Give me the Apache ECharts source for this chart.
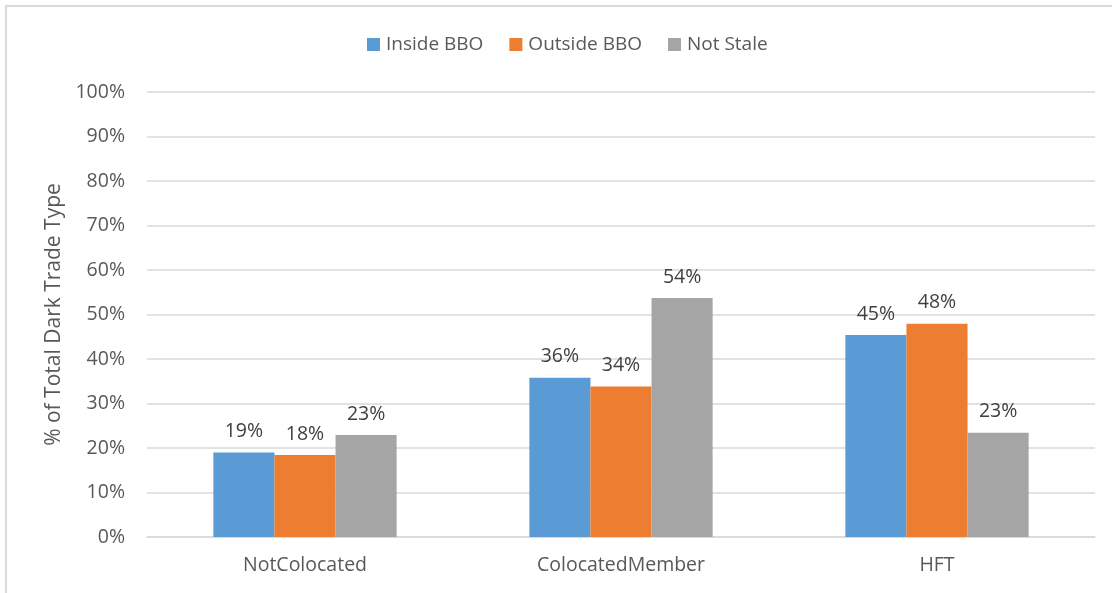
<!DOCTYPE html>
<html>
<head>
<meta charset="utf-8">
<style>
  html, body { margin: 0; padding: 0; background: #ffffff; }
  #chart { width: 1112px; height: 593px; }
</style>
<script src="https://cdn.jsdelivr.net/npm/echarts@6/dist/echarts.min.js"></script>
</head>
<body>
<div id="chart"></div>
<script>
// Share of each dark trade type by trader group (percent)
const categories = ['NotColocated', 'ColocatedMember', 'HFT'];
const insideBBO = [19.0, 35.8, 45.4];
const outsideBBO = [18.4, 33.8, 47.9];
const notStale = [22.9, 53.7, 23.4];
const seriesNames = ['Inside BBO', 'Outside BBO', 'Not Stale'];
const seriesColors = ['#5B9BD5', '#ED7D31', '#A5A5A5'];

const FONT = '"Open Sans", "Liberation Sans", sans-serif';
const FS = 19.5;

const chart = echarts.init(document.getElementById('chart'), null, { renderer: 'canvas' });

function barSeries(name, data, color) {
  return {
    name: name,
    type: 'bar',
    data: data,
    barGap: '0%',
    barCategoryGap: '42%',
    itemStyle: { color: color },
    label: {
      show: true,
      position: 'top',
      distance: 11,
      color: '#404040',
      fontFamily: FONT,
      fontSize: FS,
      formatter: p => Math.round(p.value) + '%'
    },
    emphasis: { disabled: true }
  };
}

chart.setOption({
  animation: false,
  backgroundColor: '#ffffff',
  textStyle: { fontFamily: FONT },
  color: seriesColors,
  legend: {
    top: 30,
    left: 362,
    itemWidth: 13,
    itemHeight: 13,
    itemGap: 26,
    icon: 'rect',
    textStyle: { color: '#595959', fontSize: 19, fontFamily: FONT, padding: [0, 0, 0, 1] },
    data: seriesNames
  },
  grid: { left: 147, right: 17, top: 92, bottom: 56, containLabel: false },
  xAxis: {
    type: 'category',
    data: categories,
    axisLine: { show: true, lineStyle: { color: '#D9D9D9', width: 1.5 } },
    axisTick: { show: false },
    axisLabel: { color: '#595959', fontSize: FS, fontFamily: FONT, margin: 18 }
  },
  yAxis: {
    type: 'value',
    min: 0,
    max: 100,
    interval: 10,
    name: '% of Total Dark Trade Type',
    nameLocation: 'middle',
    nameRotate: 90,
    nameGap: 82,
    nameTextStyle: { color: '#595959', fontSize: 21, fontFamily: FONT },
    axisLine: { show: false },
    axisTick: { show: false },
    splitLine: { show: true, lineStyle: { color: '#D9D9D9', width: 1.5 } },
    axisLabel: { color: '#595959', fontSize: FS, fontFamily: FONT, margin: 22, formatter: '{value}%' }
  },
  graphic: [{
    type: 'rect',
    silent: true,
    shape: { x: 6, y: 6, width: 1200, height: 700 },
    style: { fill: null, stroke: '#D9D9D9', lineWidth: 2 }
  }],
  series: [
    barSeries(seriesNames[0], insideBBO, seriesColors[0]),
    barSeries(seriesNames[1], outsideBBO, seriesColors[1]),
    barSeries(seriesNames[2], notStale, seriesColors[2])
  ]
});
</script>
</body>
</html>
